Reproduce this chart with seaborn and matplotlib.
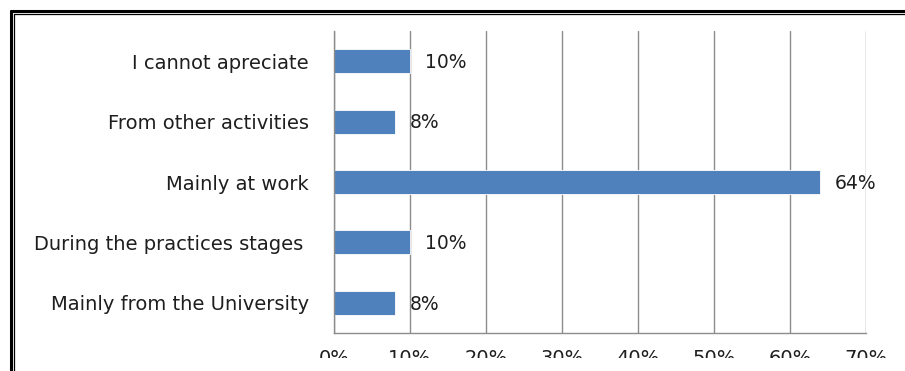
import matplotlib
matplotlib.use("Agg")
import matplotlib.pyplot as plt
from matplotlib.lines import Line2D
from matplotlib.transforms import Bbox, TransformedBbox
from matplotlib.ticker import PercentFormatter
import seaborn as sns
import pandas as pd

categories = [
    "I cannot apreciate",
    "From other activities",
    "Mainly at work",
    "During the practices stages ",
    "Mainly from the University",
]
values = [10, 8, 64, 10, 8]
x_ticks = [0, 10, 20, 30, 40, 50, 60, 70]

bar_color = "#4F81BD"
grid_color = "#8C8C8C"
text_color = "#1E1E1E"

sns.set_theme(style="white")
plt.rcParams["font.family"] = ["DejaVu Sans"]

W, H = 905, 371
fig = plt.figure(figsize=(W / 100, H / 100), dpi=100)
ax = fig.add_axes([334 / W, 1 - 333 / H, (866 - 334) / W, (333 - 31) / H])

df = pd.DataFrame({"category": categories, "value": values})
sns.barplot(data=df, x="value", y="category", orient="h", color=bar_color,
            saturation=1, width=0.4, ax=ax, edgecolor="white", linewidth=0.6)

ax.set_xlim(x_ticks[0], x_ticks[-1])
ax.set_ylim(len(categories) - 0.5, -0.5)
ax.set_xticks(x_ticks)
ax.xaxis.set_major_formatter(PercentFormatter(decimals=0))
ax.set_xlabel("")
ax.set_ylabel("")

# vertical gridlines at every 10 %
ax.grid(axis="x", color=grid_color, linewidth=1.0)
ax.set_axisbelow(True)

for side in ("top", "right"):
    ax.spines[side].set_visible(False)
for side in ("left", "bottom"):
    ax.spines[side].set_color(grid_color)
    ax.spines[side].set_linewidth(1.0)

# category boundary ticks on the y axis, labels centred between them
ax.set_yticks([i for i in range(len(categories))])
ax.set_yticks([i - 0.5 for i in range(len(categories) + 1)], minor=True)
ax.tick_params(axis="y", which="major", length=0, pad=18, labelsize=14,
               labelcolor=text_color)
ax.tick_params(axis="y", which="minor", length=9, width=1.0, color=grid_color,
               direction="out")
ax.tick_params(axis="x", which="major", length=5, width=1.0, color=grid_color,
               direction="out", pad=6.8, labelsize=14, labelcolor=text_color)

# the bottom strip of the percentage labels is cropped off at y = 358 px
crop = TransformedBbox(Bbox([[0, 1 - 358 / H], [1, 1]]), fig.transFigure)
for lbl in ax.get_xticklabels():
    lbl.set_clip_on(True)
    lbl.set_clip_box(crop)

# value labels next to each bar
for i, v in enumerate(values):
    ax.annotate(f"{v}%", xy=(v, i), xytext=(10.5, -1), textcoords="offset points",
                ha="left", va="center", fontsize=13.5, color=text_color)

# double black frame around the chart area
def px_line(x0, y0, x1, y1, lw):
    fig.add_artist(Line2D([x0 / W, x1 / W], [1 - y0 / H, 1 - y1 / H],
                          transform=fig.transFigure, color="black", lw=lw))

px_line(10.5, 11, W + 5, 11, 2.2)
px_line(11, 10.5, 11, H + 5, 2.2)
px_line(14, 14, W + 5, 14, 0.9)
px_line(14, 14, 14, H + 5, 0.9)

fig.savefig("out.png", dpi=100)
